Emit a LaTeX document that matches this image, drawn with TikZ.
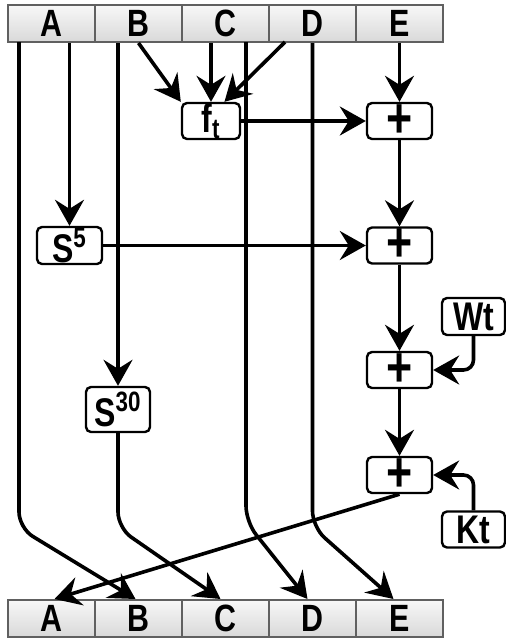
\documentclass[tikz,border=0pt]{standalone}
\usepackage{fontspec}
\newfontfamily\diafont[FakeStretch=0.8]{Liberation Sans}
\usetikzlibrary{arrows.meta,positioning}

\tikzset{
  reg/.style={draw=gray!75!black, line width=1pt, top color=gray!6, bottom color=gray!30,
    minimum width=43.5pt, minimum height=18.5pt, inner sep=0pt,
    font=\diafont\bfseries\fontsize{19}{19}\selectfont},
  op/.style={draw, line width=1.2pt, rounded corners=2.5pt, fill=white, inner sep=0pt,
    minimum height=18pt, font=\diafont\bfseries\fontsize{20}{20}\selectfont},
  plus/.style={op, minimum width=32.5pt, font=\diafont\bfseries\fontsize{28}{28}\selectfont},
  flow/.style={line width=1.8pt},
  arr/.style={flow, -{Stealth[length=13pt,width=14.5pt,inset=4.5pt]}},
}

\begin{document}
\begin{tikzpicture}[x=0.5pt,y=-0.5pt]
  \useasboundingbox (0,0) rectangle (506,639);

  % registers before and after the round
  \foreach \r [count=\i from 0] in {A,B,C,D,E} {
    \node[reg] (t\r) at ({51.5+87*\i},23.5) {\r};
    \node[reg] (b\r) at ({51.5+87*\i},618.5) {\r};
  }

  % operation boxes
  \node[op,minimum width=29pt] (ft) at (211,121) {f\textsubscript{t}};
  \node[plus] (add1) at (399.5,121) {+};
  \node[op,minimum width=32.5pt,minimum height=18.5pt] (sfive) at (69.5,245.5) {S\textsuperscript{5}};
  \node[plus] (add2) at (399.5,245.5) {+};
  \node[op,minimum width=31.5pt,minimum height=18.5pt] (wt) at (473.5,316.5) {Wt};
  \node[plus] (add3) at (399.5,370) {+};
  \node[op,minimum width=32pt,minimum height=22.5pt] (sthirty) at (118,409.5) {S\textsuperscript{30}};
  \node[plus] (add4) at (399.5,475) {+};
  \node[op,minimum width=31.5pt,minimum height=18pt] (kt) at (473.5,529.5) {Kt};

  \coordinate (aleft) at (19,42);
  \coordinate (cright) at (246,42);
  \coordinate (dleft) at (285,42);

  % inputs of f_t and the rotations
  \draw[arr] (tA.south -| sfive.north) -- (sfive.north);
  \draw[arr] (tB.south -| sthirty.north) -- (sthirty.north);
  \draw[arr] (tB.south) -- (ft.north west);
  \draw[arr] (tC.south -| ft.north) -- (ft.north);
  \draw[arr] (dleft) -- (ft.55);

  % adder chain
  \draw[arr] (tE.south) -- (add1.north);
  \draw[arr] (ft.east) -- (add1.west);
  \draw[arr] (add1.south) -- (add2.north);
  \draw[arr] (sfive.east) -- (add2.west);
  \draw[arr] (add2.south) -- (add3.north);
  \draw[arr] (add3.south) -- (add4.north);
  \draw[arr,rounded corners=5pt] (wt.south) |- (add3.east);
  \draw[arr,rounded corners=5pt] (kt.north) |- (add4.east);

  % shift into the new registers
  \draw[arr] (add4.south) -- ([xshift=1.5pt]bA.north);
  \draw[arr,rounded corners=8pt] (aleft) -- (19,528) -- ([xshift=-1.5pt]bB.north);
  \draw[arr,rounded corners=8pt] (sthirty.south) -- (118,528) -- ([xshift=-2.5pt]bC.north);
  \draw[arr,rounded corners=8pt] (cright) -- (246,522) -- ([xshift=-2.5pt]bD.north);
  \draw[arr,rounded corners=8pt] (tD.south) -- (312.5,527) -- ([xshift=-3pt]bE.north);
\end{tikzpicture}
\end{document}
